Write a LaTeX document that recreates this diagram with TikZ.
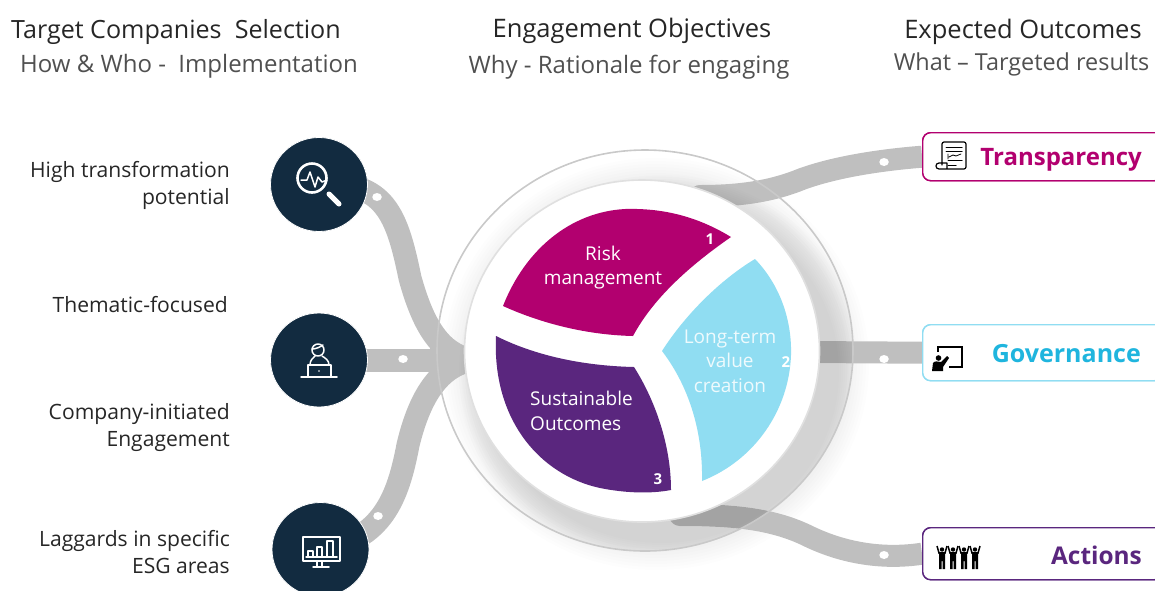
\documentclass[tikz,border=0pt]{standalone}
\usepackage{fontspec}
\setmainfont{Open Sans}
\usetikzlibrary{shapes.geometric}
\definecolor{navy}{HTML}{122B40}
\definecolor{magen}{HTML}{B2006F}
\definecolor{skyb}{HTML}{90DDF2}
\definecolor{skyt}{HTML}{1FB5DE}
\definecolor{purp}{HTML}{5A267E}
\definecolor{ribb}{HTML}{BFBFBF}
\definecolor{ink}{HTML}{262626}
\definecolor{soft}{HTML}{505050}
\newcommand{\fsz}[2]{\fontsize{#1}{#2}\selectfont}
\tikzset{
  ribbon/.style={draw=ribb,line width=#1,line join=round},
  ribbon/.default=23pt,
  hole/.style={fill=white,draw=none,ellipse,minimum width=9.5pt,minimum height=8pt,inner sep=0pt},
  iconbg/.style={ellipse,fill=navy,draw=white,line width=.8pt,minimum width=97pt,minimum height=94pt,inner sep=0pt},
  ico/.style={draw=white,line width=1.5pt,line cap=round,line join=round},
  blk/.style={draw=black,line width=1.2pt,line cap=round,line join=round},
  outbox/.style={draw=#1,fill=white,line width=1.4pt,rounded corners=8pt,inner sep=0pt,anchor=north west},
  head/.style={text=ink,inner sep=0pt,font=\fsz{25.5}{30}},
  subhead/.style={text=soft,inner sep=0pt,font=\fsz{24}{30}},
  lab/.style={text=ink,align=right,anchor=east,inner sep=0pt,font=\fsz{21.1}{27}},
  inlab/.style={text=white,inner sep=0pt,font=\fsz{19}{24.5}},
  num/.style={text=white,inner sep=0pt,font=\fsz{15}{18}\bfseries},
  outlab/.style={anchor=east,inner sep=0pt}
}
\begin{document}
\begin{tikzpicture}[x=1pt,y=-1pt]
\useasboundingbox (0,0) rectangle (1155,590);
\clip (0,0) rectangle (1155,590);
% soft shadow of the outer ring
\foreach \k in {-8,-5,...,13}{\fill[black,opacity=0.009] (656,364) ellipse [x radius=200+\k,y radius=193+\k];}
% named anchors
\coordinate (core) at (642,351);
\coordinate (hubL) at (472,360);
\coordinate (tm) at (410,278);
\coordinate (bm) at (408,445);
\coordinate (rt1) at (700,196);
\coordinate (rt2) at (802,179);
\coordinate (rb1) at (680,515);
\coordinate (rb2) at (806,535);
\node[iconbg] (ic1) at (319,184.5) {};
\node[iconbg] (ic2) at (319,360) {};
\node[iconbg] (ic3) at (320.5,549.5) {};
\node[outbox=magen,minimum width=240pt,minimum height=48pt] (bx1) at (922,132) {};
\node[outbox=skyb,minimum width=240pt,minimum height=56pt] (bx2) at (922,324) {};
\node[outbox=purp,minimum width=240pt,minimum height=52pt] (bx3) at (922,527) {};
% ribbons
\draw[ribbon] (ic1.center) .. controls (385,180) and (397,215) .. (tm) .. controls (423,325) and (440,354) .. (hubL);
\draw[ribbon] (ic2.center) -- (hubL);
\draw[ribbon] (ic3.center) .. controls (382,540) and (398,498) .. (bm) .. controls (420,395) and (440,366) .. (hubL);
\fill[ribb] (430,347) .. controls (445,350) and (455,350) .. (470,348) -- (470,373) .. controls (455,371) and (445,372) .. (430,373) -- cycle;
\draw[ribbon=22pt] (core) -- (rt1) .. controls (745,196) and (775,190) .. (rt2) .. controls (835,167) and (880,160) .. (bx1.west);
\draw[ribbon=22pt] (core) -- (bx2.west);
\draw[ribbon=22pt] (core) -- (rb1) .. controls (730,515) and (770,518) .. (rb2) .. controls (840,552) and (880,560) .. (bx3.west);
% icons & boxes above the ribbons
\node[iconbg] at (ic1) {};
\node[iconbg] at (ic2) {};
\node[iconbg] at (ic3) {};
\node[outbox=magen,minimum width=240pt,minimum height=48pt] at (922,132) {};
\node[outbox=skyb,minimum width=240pt,minimum height=56pt] at (922,324) {};
\node[outbox=purp,minimum width=240pt,minimum height=52pt] at (922,527) {};
% holes
\node[hole] (h1) at (377,197) {};
\node[hole] (h2) at (403,359) {};
\node[hole] (h3) at (378,516) {};
\node[hole] (h4) at (884,162) {};
\node[hole] (h5) at (884,359) {};
\node[hole] (h6) at (884,555) {};
% disc shadow inside the ring
\begin{scope}
\clip (645,350.5) ellipse [x radius=208,y radius=200.5];
\foreach \k in {0,2,...,26}{\fill[black,opacity=0.0095] (662,372) ellipse [x radius=177+\k,y radius=171+\k];}
\end{scope}
\draw[draw=ribb!85!white,line width=1.6pt] (645,350.5) ellipse [x radius=208,y radius=200.5];
\fill[white] (642,351) ellipse [x radius=177.5,y radius=171];
\draw[draw=black!12,line width=1.6pt] (642,351) ellipse [x radius=177.5,y radius=171];
% sectors
\fill[magen] (731,237) .. controls (695,215) and (660,208) .. (625,209) .. controls (570,212) and (525,250) .. (503,306)
  .. controls (545,325) and (590,335) .. (633,336) .. controls (655,295) and (695,262) .. (731,237) -- cycle;
\fill[skyb] (755,259) .. controls (780,285) and (792,320) .. (791,355) .. controls (789,410) and (755,460) .. (702,481)
  .. controls (703,430) and (688,385) .. (662,351) .. controls (685,315) and (720,280) .. (755,259) -- cycle;
\fill[purp] (496,336) .. controls (540,358) and (590,366) .. (634,367) .. controls (655,400) and (671,445) .. (671,490)
  .. controls (650,494) and (625,493) .. (600,488) .. controls (540,475) and (492,420) .. (496,336) -- cycle;
% inner labels
\node[inlab,align=center] (tr) at (603,267.5) {Risk\\management};
\node[inlab,align=center,text=white!85!skyb] (tl) at (730,361) {Long-term\\value\\creation};
\node[inlab,align=left,anchor=west] (ts) at (530,411) {Sustainable\\Outcomes};
\node[num] (n1) at (710,239) {1};
\node[num] (n2) at (786,362) {2};
\node[num] (n3) at (658,479) {3};
% left labels
\node[lab] (l1) at (230,185) {High transformation\\potential};
\node[lab] (l2) at (228,305) {Thematic-focused};
\node[lab] (l3) at (230,428) {Company-initiated\\Engagement};
\node[lab] (l4) at (230,552.5) {Laggards in specific\\ESG areas};
% headings
\node[head,anchor=west,font=\fsz{25.1}{30}] (h-a) at (11,32) {Target Companies\ \ Selection};
\node[subhead,anchor=west] (h-b) at (20,66) {How \& Who -\ \ Implementation};
\node[head] (h-c) at (632,31) {Engagement Objectives};
\node[subhead] (h-d) at (629,67) {Why - Rationale for engaging};
\node[head] (h-e) at (1023,32) {Expected Outcomes};
\node[subhead,font=\fsz{23.4}{30}] (h-f) at (1021.5,64) {What – Targeted results};
% outcome labels
\node[outlab,text=magen,font=\fsz{24}{30}\bfseries] (o1) at (1142,160) {Transparency};
\node[outlab,text=skyt,font=\fsz{25}{30}\bfseries] (o2) at (1141,354) {Governance};
\node[outlab,text=purp,font=\fsz{24.4}{30}\bfseries] (o3) at (1142,555) {Actions};
% icon 1 magnifier
\draw[ico,line width=2.6pt] (312,178) circle (14.5);
\draw[ico,line width=5pt] (329,194) -- (339,204);
\draw[ico] (301,180) -- (307,180) -- (310,172) -- (315,187) -- (318,177) -- (322,182) -- (327,180);
% icon 2 person
\draw[ico] (318,350) circle (6);
\draw[ico] (312,349) .. controls (316,349) and (320,347) .. (323,345);
\draw[ico] (310,365) .. controls (310,360) and (313,358) .. (315,356);
\draw[ico] (329,365) .. controls (329,360) and (325,358) .. (322,356);
\draw[ico] (308,377) -- (308,365) -- (331,365) -- (331,377);
\draw[ico] (301,377) -- (337,377);
\fill[white] (319,371) circle (.8);
% icon 3 monitor
\draw[ico] (303,537) rectangle (340,561);
\draw[ico] (306,557) -- (337,557);
\draw[ico,line width=1.2pt] (308,557) -- (308,551) -- (313,551) -- (313,557);
\draw[ico,line width=1.2pt] (317,557) -- (317,547) -- (322,547) -- (322,557);
\draw[ico,line width=1.2pt] (327,557) -- (327,541) -- (333,541) -- (333,557);
\draw[ico] (317,561) -- (317,567) (322,561) -- (322,567) (313,567) -- (329,567);
% transparency icon
\draw[blk] (942,165) -- (942,144) .. controls (942,143) and (943,142) .. (944,142) -- (964,142) .. controls (965,142) and (966,143) .. (966,144) -- (966,167) .. controls (966,168) and (965,169) .. (964,169) -- (939,169) .. controls (935,169) and (935,163) .. (939,163) -- (947,163) -- (947,169);
\draw[blk,line width=1pt] (946,147) -- (962,147) (946,151) -- (962,151) (948,160) -- (962,160) (948,165) -- (956,165);
\draw[blk,line width=.8pt] (948,154) -- (948,159) (949,157) -- (953,155) -- (956,156) -- (961,154);
% governance icon
\draw[black,line width=1.3pt] (938,352) -- (938,347) -- (962,347) -- (962,367) -- (949,367);
\fill[black] (938.5,358) circle (2.8);
\fill[black] (932,371) -- (933,363) .. controls (934,361) and (938,361) .. (941,362) -- (947,356) -- (949,358) -- (943,367) -- (943,371) -- cycle;
% actions icon
\foreach \xx in {942,953,964,975}{
  \fill[black] (\xx,549.5) circle (2.2);
  \draw[black,line width=1.5pt] (\xx-5,546) -- (\xx-3,553) -- (\xx+3,553) -- (\xx+5,546);
  \fill[black] (\xx-3,552) -- (\xx+3,552) -- (\xx+3,560) -- (\xx+3,569) -- (\xx+.5,569) -- (\xx+.5,561) -- (\xx-.5,561) -- (\xx-.5,569) -- (\xx-3,569) -- cycle;
}
\end{tikzpicture}
\end{document}
